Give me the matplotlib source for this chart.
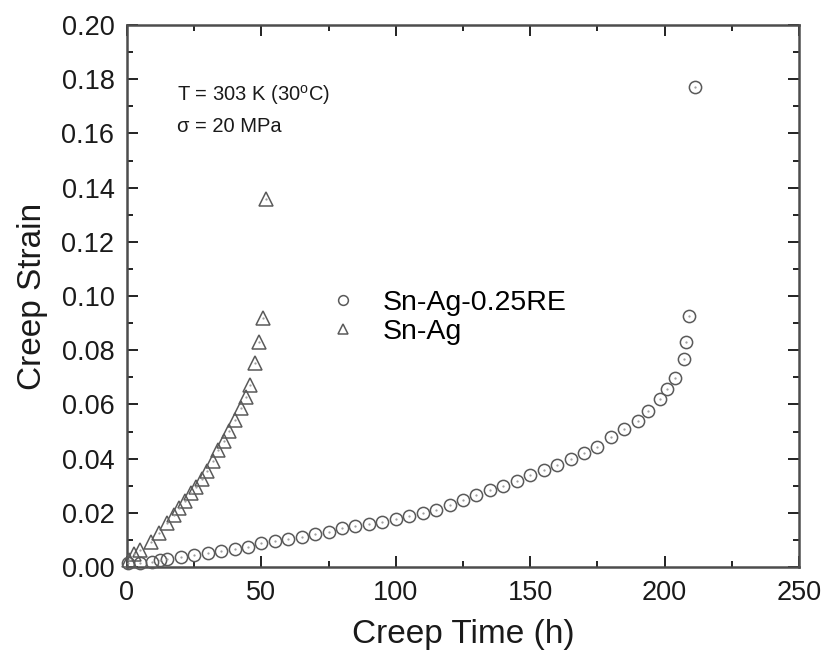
import matplotlib
matplotlib.use("Agg")
import matplotlib.pyplot as plt
from matplotlib.ticker import MultipleLocator

plt.rcParams['font.family'] = ['Liberation Sans', 'DejaVu Sans']
plt.rcParams['mathtext.fontset'] = 'custom'
plt.rcParams['mathtext.rm'] = 'Liberation Sans'

# Sn-Ag-0.25RE (circles)
re_time = [0.5, 4.8, 9.2, 12.3, 14.8, 20, 25, 30, 35, 40, 45, 50, 55, 60, 65, 70,
           75, 80, 85, 90, 95, 100, 105, 110, 115, 120, 125, 130, 135, 140, 145,
           150, 155, 160, 165, 170, 175, 180, 185, 190, 194, 198.3, 201, 204,
           207.2, 208, 209.2, 211.3]
re_strain = [0.0016, 0.0016, 0.0020, 0.0026, 0.0028, 0.0036, 0.0044, 0.0053, 0.0060,
             0.0068, 0.0075, 0.0087, 0.0097, 0.0102, 0.0110, 0.0122, 0.0130, 0.0143,
             0.0151, 0.0159, 0.0165, 0.0176, 0.0188, 0.0200, 0.0210, 0.0228, 0.0247,
             0.0266, 0.0284, 0.0299, 0.0317, 0.0339, 0.0358, 0.0378, 0.0399, 0.0419,
             0.0444, 0.0479, 0.0509, 0.0540, 0.0576, 0.0620, 0.0657, 0.0696, 0.0767,
             0.0831, 0.0926, 0.1772]

# Sn-Ag (triangles)
ag_time = [0.9, 2.6, 4.8, 8.8, 12.0, 14.8, 17.5, 19.5, 21.6, 23.7, 25.7, 27.8, 29.9,
           31.9, 34.0, 36.1, 38.0, 40.2, 42.3, 44.3, 45.9, 47.6, 49.0, 50.5, 51.7]
ag_strain = [0.0026, 0.0048, 0.0063, 0.0091, 0.0127, 0.0161, 0.0192, 0.0219, 0.0245,
             0.0272, 0.0294, 0.0324, 0.0355, 0.0391, 0.0432, 0.0466, 0.0503, 0.0542,
             0.0586, 0.0628, 0.0672, 0.0752, 0.0831, 0.0920, 0.1358]

fig = plt.figure(figsize=(8.26, 6.62), dpi=100)
ax = fig.add_axes([127/826, 1-567/662, (799-127)/826, (567-25)/662])

mc = '#5a5a5a'
ax.plot(re_time, re_strain, 'o', ms=8.8, mfc='none', mec=mc, mew=1.1,
        label='Sn-Ag-0.25RE', clip_on=False, zorder=3)
ax.plot(ag_time, ag_strain, '^', ms=9.8, mfc='none', mec=mc, mew=1.1,
        label='Sn-Ag', clip_on=False, zorder=3)
ax.plot(re_time, re_strain, '.', ms=1.2, color='#999999', zorder=4, clip_on=False)
ax.plot(ag_time, ag_strain, '.', ms=1.2, color='#999999', zorder=4, clip_on=False)

ax.set_xlim(0, 250)
ax.set_ylim(0, 0.20)
ax.xaxis.set_major_locator(MultipleLocator(50))
ax.xaxis.set_minor_locator(MultipleLocator(25))
ax.yaxis.set_major_locator(MultipleLocator(0.02))
ax.yaxis.set_minor_locator(MultipleLocator(0.01))
ax.yaxis.set_major_formatter(matplotlib.ticker.FormatStrFormatter('%.2f'))
ax.tick_params(which='both', direction='in', top=True, right=True, labelsize=19.5,
               color='#222222', labelcolor='#1a1a1a')
ax.tick_params(which='major', length=8, width=1.4, pad=9)
ax.tick_params(which='minor', length=4, width=1.4)
for sp in ax.spines.values():
    sp.set_linewidth(1.8)
    sp.set_color('#4d4d4d')

ax.set_xlabel('Creep Time (h)', fontsize=24, labelpad=10, color='#1a1a1a')
ax.set_ylabel('Creep Strain', fontsize=24, labelpad=10, color='#1a1a1a')

ax.text(0.075, 0.871, r'T = 303 K (30$^{\rm o}$C)', transform=ax.transAxes, fontsize=14.5,
        va='center', ha='left', color='#1a1a1a')
ax.text(0.075, 0.812, 'σ = 20 MPa', transform=ax.transAxes, fontsize=14.5,
        va='center', ha='left', color='#1a1a1a')

leg = ax.legend(loc='upper left', bbox_to_anchor=(0.253, 0.558), frameon=False,
                fontsize=20.5, markerscale=0.8, handletextpad=0.7, labelspacing=0.1,
                handlelength=1.4)

fig.savefig('out.png', dpi=100)
